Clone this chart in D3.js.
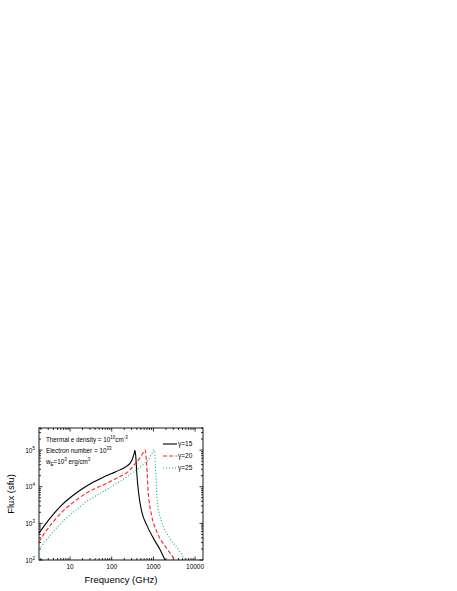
<!DOCTYPE html>
<html>
<head>
<meta charset="utf-8">
<script src="https://cdn.jsdelivr.net/npm/d3@7"></script>
<style>
  body { margin: 0; background: #fff; }
  text { font-family: "Liberation Sans", Arial, sans-serif; }
</style>
</head>
<body>
<svg id="chart" width="457" height="591"></svg>
<script>
// Data arrays
const freq15 = [1.8, 2.5, 4, 6.3, 10, 15.8, 25, 40, 63, 100, 158, 230, 300, 345, 360, 380, 397, 437, 525, 690, 1000, 1450, 1900, 2100];
const flux15 = [540, 910, 1780, 3160, 5000, 7400, 10500, 14100, 18200, 22900, 28800, 36300, 51000, 80000, 98000, 62000, 26000, 7500, 2100, 910, 390, 190, 100, 80];

const freq20 = [1.8, 2.5, 4, 6.3, 10, 16, 25, 40, 63, 100, 158, 250, 350, 480, 580, 630, 690, 750, 900, 1200, 2070, 3300, 3600];
const flux20 = [316, 560, 1120, 2000, 3200, 4800, 6800, 9000, 11200, 14500, 19000, 26000, 40000, 62000, 88000, 100000, 40000, 7400, 1700, 600, 210, 100, 85];

const freq25 = [1.8, 2.5, 4, 6.3, 10, 16, 25, 40, 63, 100, 158, 250, 400, 600, 750, 950, 1050, 1150, 1240, 1580, 2500, 4300, 5700, 6200];
const flux25 = [190, 320, 600, 1050, 1700, 2600, 4000, 5500, 7400, 10200, 14000, 20000, 29500, 42000, 55000, 85000, 100000, 21000, 4000, 1120, 390, 170, 100, 85];

const seriesNames = ["\u03b3=15", "\u03b3=20", "\u03b3=25"];
const xTicks = [10, 100, 1000, 10000];
const yTicks = [100, 1000, 10000, 100000];
const yTickExp = ["2", "3", "4", "5"];

// Layout
const margin = { top: 428, left: 39 };
const width = 203 - 39;
const height = 560 - 428;

const svg = d3.select("#chart");
const g = svg.append("g").attr("transform", `translate(${margin.left},${margin.top})`);

const x = d3.scaleLog().domain([1.8, 15500]).range([0, width]);
const y = d3.scaleLog().domain([100, 400000]).range([height, 0]);

// clip
svg.append("defs").append("clipPath").attr("id", "clip")
  .append("rect").attr("width", width).attr("height", height);

// minor tick values
function minorTicks(domain) {
  const out = [];
  for (let e = -1; e <= 6; e++) {
    for (let m = 2; m <= 9; m++) {
      const v = m * Math.pow(10, e);
      if (v >= domain[0] && v <= domain[1]) out.push(v);
    }
  }
  return out;
}
const xMinor = minorTicks(x.domain());
const yMinor = minorTicks(y.domain());

// axes (ticks pointing inward, mirrored on top/right)
const axisColor = "#000";
function drawTicks(vals, len, horizontal) {
  vals.forEach(v => {
    if (horizontal) {
      const px = x(v);
      g.append("line").attr("x1", px).attr("x2", px).attr("y1", height).attr("y2", height - len).attr("stroke", axisColor).attr("stroke-width", 0.8);
      g.append("line").attr("x1", px).attr("x2", px).attr("y1", 0).attr("y2", len).attr("stroke", axisColor).attr("stroke-width", 0.8);
    } else {
      const py = y(v);
      g.append("line").attr("x1", 0).attr("x2", len).attr("y1", py).attr("y2", py).attr("stroke", axisColor).attr("stroke-width", 0.8);
      g.append("line").attr("x1", width).attr("x2", width - len).attr("y1", py).attr("y2", py).attr("stroke", axisColor).attr("stroke-width", 0.8);
    }
  });
}
drawTicks(xTicks, 3.5, true);
drawTicks(xMinor, 2, true);
drawTicks(yTicks, 3.5, false);
drawTicks(yMinor, 2, false);

g.append("rect").attr("width", width).attr("height", height)
  .attr("fill", "none").attr("stroke", axisColor).attr("stroke-width", 0.9);

// x tick labels
g.selectAll(".xlab").data(xTicks).enter().append("text")
  .attr("x", d => x(d)).attr("y", height + 9)
  .attr("text-anchor", "middle").attr("font-size", 6.5)
  .text(d => d);

// y tick labels
yTicks.forEach((v, i) => {
  const t = g.append("text").attr("x", -4).attr("y", y(v) + 2.5)
    .attr("text-anchor", "end").attr("font-size", 6.5);
  t.append("tspan").text("10");
  t.append("tspan").attr("dy", -3).attr("font-size", 4.5).text(yTickExp[i]);
});

// axis titles
svg.append("text").attr("x", margin.left + width / 2).attr("y", 583)
  .attr("text-anchor", "middle").attr("font-size", 9.5).text("Frequency (GHz)");
svg.append("text").attr("transform", `translate(14,${margin.top + height / 2}) rotate(-90)`)
  .attr("text-anchor", "middle").attr("font-size", 9.5).text("Flux (sfu)");

// curves
const line = d3.line().x(d => x(d[0])).y(d => y(d[1])).curve(d3.curveMonotoneX);
const series = [
  { f: freq15, v: flux15, color: "#000000", dash: null, w: 1.1 },
  { f: freq20, v: flux20, color: "#ff2020", dash: "4,2.2", w: 1.1 },
  { f: freq25, v: flux25, color: "#18b070", dash: "1,2", w: 1.1 }
];
const plot = g.append("g").attr("clip-path", "url(#clip)");
series.forEach(s => {
  plot.append("path")
    .datum(d3.zip(s.f, s.v))
    .attr("d", line)
    .attr("fill", "none").attr("stroke", s.color).attr("stroke-width", s.w)
    .attr("stroke-dasharray", s.dash);
});

// legend
series.forEach((s, i) => {
  const ly = 16 + i * 12;
  g.append("line").attr("x1", 124).attr("x2", 138).attr("y1", ly).attr("y2", ly)
    .attr("stroke", s.color).attr("stroke-width", s.w).attr("stroke-dasharray", s.dash);
  g.append("text").attr("x", 139).attr("y", ly + 2.3).attr("font-size", 6.5).text(seriesNames[i]);
});

// annotations
const ann = g.append("g").attr("font-size", 6.3);
const a1 = ann.append("text").attr("x", 7).attr("y", 14);
a1.append("tspan").text("Thermal e density = 10");
a1.append("tspan").attr("dy", -3).attr("font-size", 4.5).text("10");
a1.append("tspan").attr("dy", 3).text("cm");
a1.append("tspan").attr("dy", -3).attr("font-size", 4.5).text("-3");

const a2 = ann.append("text").attr("x", 7).attr("y", 25);
a2.append("tspan").text("Electron number = 10");
a2.append("tspan").attr("dy", -3).attr("font-size", 4.5).text("33");

const a3 = ann.append("text").attr("x", 7).attr("y", 35.5);
a3.append("tspan").text("w");
a3.append("tspan").attr("dy", 2).attr("font-size", 4.5).text("E");
a3.append("tspan").attr("dy", -2).text("=10");
a3.append("tspan").attr("dy", -3).attr("font-size", 4.5).text("3");
a3.append("tspan").attr("dy", 3).text(" erg/cm");
a3.append("tspan").attr("dy", -3).attr("font-size", 4.5).text("3");
</script>
</body>
</html>
